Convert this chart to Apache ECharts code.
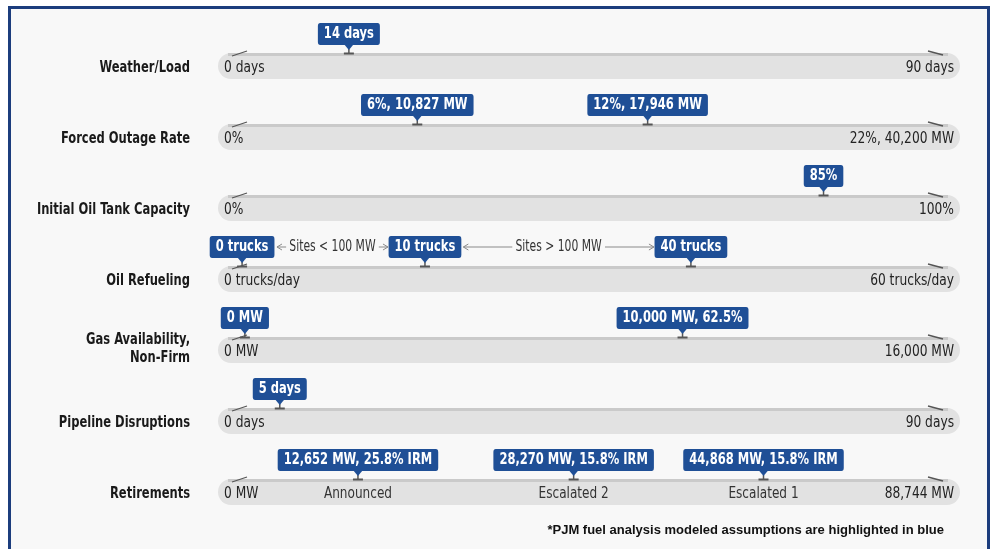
<!DOCTYPE html>
<html>
<head>
<meta charset="utf-8">
<script src="https://cdn.jsdelivr.net/npm/echarts@6/dist/echarts.min.js"></script>
<style>
  html, body { margin: 0; padding: 0; background: #fff; }
  #chart { width: 995px; height: 549px; }
</style>
</head>
<body>
<div id="chart"></div>
<script>
const rowNames = ['Weather/Load', 'Forced Outage Rate', 'Initial Oil Tank Capacity', 'Oil Refueling', 'Gas Availability,\nNon-Firm', 'Pipeline Disruptions', 'Retirements']
const minLabels = ['0 days', '0%', '0%', '0 trucks/day', '0 MW', '0 days', '0 MW']
const maxLabels = ['90 days', '22%, 40,200 MW', '100%', '60 trucks/day', '16,000 MW', '90 days', '88,744 MW']

const markerRows = [0, 1, 1, 2, 3, 3, 3, 4, 4, 5, 6, 6, 6]
const markerPos = [15.6, 25.4, 58.4, 83.6, 0.3, 26.5, 64.6, 0.7, 63.4, 5.7, 16.9, 47.8, 75.0]
const markerLabels = ['14 days', '6%, 10,827 MW', '12%, 17,946 MW', '85%', '0 trucks', '10 trucks', '40 trucks', '0 MW', '10,000 MW, 62.5%', '5 days', '12,652 MW, 25.8% IRM', '28,270 MW, 15.8% IRM', '44,868 MW, 15.8% IRM']

// retirement scenarios written inside the last bar
const stageRow = 6
const stagePos = [16.9, 47.8, 75.0]
const stageLabels = ['Announced', 'Escalated 2', 'Escalated 1']

// arrows between the refueling markers
const spanRow = 3
const spanFrom = [5.3, 32.0]
const spanTo = [21.2, 59.3]
const spanLabels = ['Sites < 100 MW', 'Sites > 100 MW']

const trackMin = -3.15
const trackMax = 103.15

// no condensed face is installed, so text is squeezed a bit
const FONT = "'DejaVu Sans Condensed', 'DejaVu Sans', sans-serif"
const SQUEEZE = 0.8
const BLUE = '#1f4f96'

const chart = echarts.init(document.getElementById('chart'))

function label(x, y, text, opts) {
  return {
    type: 'text', x: x, y: y, scaleX: opts.scale || SQUEEZE,
    style: Object.assign({
      text: text, align: 'left', verticalAlign: 'middle', fill: '#222', font: '16px ' + FONT
    }, opts.style)
  }
}

function renderTrack(params, api) {
  const row = api.value(0)
  const p0 = api.coord([trackMin, row])
  const p1 = api.coord([trackMax, row])
  const y = p0[1]
  const x0 = p0[0]
  const x1 = p1[0]
  const multi = rowNames[row].indexOf('\n') >= 0
  return {
    type: 'group',
    children: [
      { type: 'rect', shape: { x: x0, y: y - 13, width: x1 - x0, height: 26, r: 13 }, style: { fill: '#e2e2e2' } },
      { type: 'rect', shape: { x: x0 + 10, y: y - 13, width: x1 - x0 - 22, height: 3 }, style: { fill: '#cacaca' } },
      { type: 'line', shape: { x1: x0 + 14, y1: y - 10, x2: x0 + 29, y2: y - 15 }, style: { stroke: '#555', lineWidth: 1.3 } },
      { type: 'line', shape: { x1: x1 - 32, y1: y - 15, x2: x1 - 17, y2: y - 11 }, style: { stroke: '#555', lineWidth: 1.3 } },
      label(x0 - 28, y + (multi ? -1 : 2), rowNames[row], { style: { align: 'right', fill: '#1a1a1a', font: 'bold 16px ' + FONT, lineHeight: 18 } }),
      label(x0 + 6, y + 2, minLabels[row], { scale: 0.85 }),
      label(x1 - 6, y + 2, maxLabels[row], { scale: 0.85, style: { align: 'right' } })
    ]
  }
}

function renderMarker(params, api) {
  const p = api.coord([api.value(0), api.value(1)])
  const x = p[0]
  const top = p[1] - 13
  return {
    type: 'group',
    children: [
      { type: 'rect', shape: { x: x - 5, y: top - 0.5, width: 10, height: 2 }, style: { fill: '#555' } },
      { type: 'rect', shape: { x: x - 0.75, y: top - 4, width: 1.5, height: 4 }, style: { fill: '#555' } },
      { type: 'polygon', shape: { points: [[x - 5, top - 9], [x + 5, top - 9], [x, top - 3]] }, style: { fill: BLUE } },
      label(x, top - 8, markerLabels[params.dataIndex], {
        style: {
          align: 'center', verticalAlign: 'bottom', fill: '#fff', font: 'bold 16px ' + FONT, lineHeight: 16,
          backgroundColor: BLUE, padding: [3, 7.5, 3, 7.5], borderRadius: 3
        }
      })
    ]
  }
}

function renderStage(params, api) {
  const p = api.coord([api.value(0), stageRow])
  return label(p[0], p[1] + 2, stageLabels[params.dataIndex], { scale: 0.84, style: { align: 'center', fill: '#333' } })
}

function renderSpan(params, api) {
  const a = api.coord([api.value(0), spanRow])
  const b = api.coord([api.value(1), spanRow])
  const y = a[1] - 32
  const mid = (a[0] + b[0]) / 2
  return {
    type: 'group',
    children: [
      { type: 'line', shape: { x1: a[0], y1: y, x2: b[0], y2: y }, style: { stroke: '#8a8a8a', lineWidth: 1 } },
      { type: 'polyline', shape: { points: [[a[0] + 5, y - 3], [a[0], y], [a[0] + 5, y + 3]] }, style: { stroke: '#8a8a8a', lineWidth: 1, fill: null } },
      { type: 'polyline', shape: { points: [[b[0] - 5, y - 3], [b[0], y], [b[0] - 5, y + 3]] }, style: { stroke: '#8a8a8a', lineWidth: 1, fill: null } },
      label(mid, y, spanLabels[params.dataIndex], {
        style: { align: 'center', fill: '#333', font: '15px ' + FONT, backgroundColor: '#f8f8f8', padding: [0, 4] }
      })
    ]
  }
}

chart.setOption({
  backgroundColor: '#fff',
  animation: false,
  graphic: [
    {
      type: 'rect', z: -10,
      shape: { x: 9.5, y: 7.5, width: 979, height: 570 },
      style: { fill: '#f8f8f8', stroke: '#1c3d7d', lineWidth: 3 }
    }
  ],
  title: {
    text: '*PJM fuel analysis modeled assumptions are highlighted in blue',
    right: 46,
    bottom: 7,
    textStyle: { fontFamily: "'Liberation Sans', Arial, sans-serif", fontWeight: 'bold', fontSize: 13, color: '#111' }
  },
  grid: { left: 218, right: 35, top: 30.5, bottom: 21.5 },
  xAxis: { type: 'value', min: trackMin, max: trackMax, show: false },
  yAxis: { type: 'category', inverse: true, data: rowNames, show: false },
  series: [
    { type: 'custom', renderItem: renderTrack, data: rowNames.map((n, i) => [i]), silent: true },
    { type: 'custom', renderItem: renderSpan, data: spanFrom.map((v, i) => [v, spanTo[i]]), silent: true },
    { type: 'custom', renderItem: renderStage, data: stagePos.map(v => [v]), silent: true },
    { type: 'custom', renderItem: renderMarker, data: markerPos.map((v, i) => [v, markerRows[i]]), silent: true }
  ]
})
</script>
</body>
</html>
